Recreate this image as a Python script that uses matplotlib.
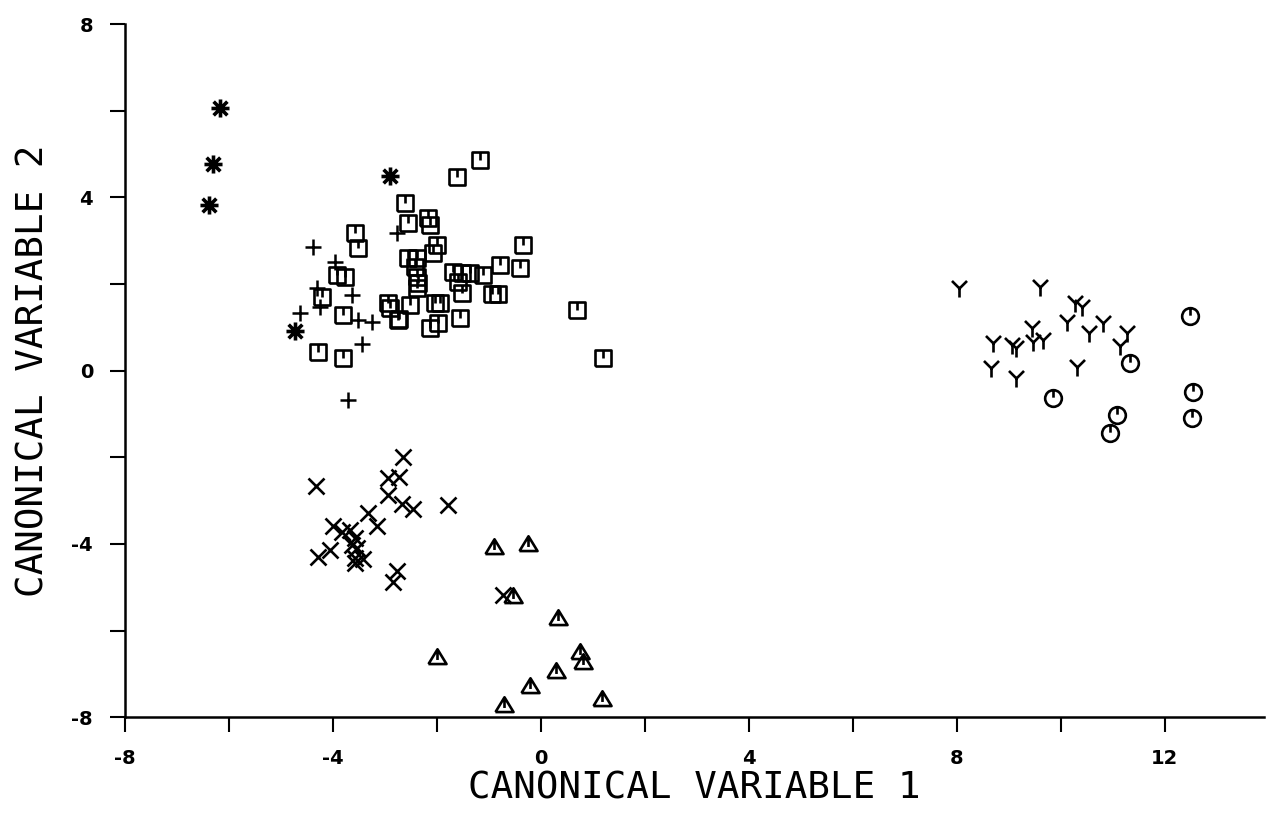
import matplotlib.pyplot as plt
from matplotlib.path import Path

# group values (canonical variable 1, canonical variable 2)
star_x = [-6.17, -6.31, -6.38, -2.90, -4.73]
star_y = [6.06, 4.77, 3.82, 4.49, 0.91]

plus_x = [-4.38, -3.96, -4.31, -4.25, -4.63, -3.63, -3.52, -3.25, -3.44, -3.71, -2.77]
plus_y = [2.85, 2.50, 1.90, 1.47, 1.33, 1.74, 1.17, 1.12, 0.61, -0.68, 3.18]

square_x = [-1.17, -1.62, -2.62, -2.56, -2.17, -2.13, -3.58, -3.52, -2.00, -2.08,
            -0.35, -2.56, -2.38, -2.42, -2.38, -2.36, -2.38, -3.92, -3.77, -4.21,
            -1.69, -1.52, -1.36, -1.12, -1.60, -0.79, -0.40, -1.52, -0.94, -0.83,
            -2.94, -2.90, -2.52, -2.75, -2.04, -1.94, -1.56, -2.13, -1.98, -3.81,
            -4.29, -3.81, 0.69, 1.19, -2.73]
square_y = [4.86, 4.47, 3.87, 3.41, 3.52, 3.36, 3.18, 2.83, 2.90, 2.71,
            2.90, 2.60, 2.60, 2.39, 2.17, 2.03, 1.91, 2.20, 2.16, 1.70,
            2.27, 2.25, 2.25, 2.20, 2.05, 2.43, 2.36, 1.79, 1.76, 1.76,
            1.55, 1.44, 1.51, 1.17, 1.56, 1.56, 1.21, 0.98, 1.10, 1.28,
            0.43, 0.29, 1.40, 0.29, 1.20]

cross_x = [-2.65, -2.94, -2.73, -4.33, -2.94, -2.67, -2.46, -1.79, -3.33, -3.15,
           -4.00, -3.83, -3.67, -3.58, -3.63, -3.54, -4.06, -4.29, -3.58, -3.42,
           -3.58, -2.77, -2.85, -0.73]
cross_y = [-2.00, -2.48, -2.46, -2.67, -2.88, -3.08, -3.20, -3.11, -3.29, -3.59,
           -3.59, -3.73, -3.68, -3.86, -4.03, -4.10, -4.15, -4.30, -4.33, -4.36,
           -4.45, -4.63, -4.88, -5.18]

tri_x = [-0.90, -0.25, -0.54, 0.33, 0.75, 0.81, -2.00, 0.29, -0.21, -0.71, 1.17]
tri_y = [-4.07, -4.00, -5.20, -5.72, -6.50, -6.73, -6.62, -6.94, -7.29, -7.71, -7.59]

y_x = [8.04, 9.60, 10.27, 10.40, 10.12, 10.80, 10.54, 11.27, 9.44, 8.69,
       9.06, 9.13, 9.46, 9.65, 11.13, 8.65, 10.31, 9.13]
y_y = [1.90, 1.93, 1.56, 1.47, 1.12, 1.09, 0.86, 0.86, 0.98, 0.63,
       0.59, 0.52, 0.66, 0.71, 0.57, 0.06, 0.08, -0.17]

circ_x = [12.48, 11.33, 9.85, 12.54, 11.08, 12.52, 10.94]
circ_y = [1.26, 0.17, -0.64, -0.49, -1.03, -1.10, -1.44]

# marker shapes: open symbol with a short vertical stroke hanging from the top
M, L = Path.MOVETO, Path.LINETO
square_mk = Path([(-0.5, -0.5), (0.5, -0.5), (0.5, 0.5), (-0.5, 0.5), (-0.5, -0.5),
                  (0, 0.5), (0, 0.0)], [M, L, L, L, L, M, L])
tri_mk = Path([(-0.55, -0.4), (0.55, -0.4), (0, 0.5), (-0.55, -0.4),
               (0, 0.5), (0, -0.15)], [M, L, L, L, M, L])
circ = Path.unit_circle()
circ_mk = Path(list(circ.vertices) + [(0, 1), (0, 0.1)],
               list(circ.codes) + [M, L])
# Y shaped marker
y_mk = Path([(0, 0), (-0.5, 0.5), (0, 0), (0.5, 0.5), (0, 0), (0, -0.6)],
            [M, L, M, L, M, L])
# eight armed asterisk
star_mk = Path([(0, -0.5), (0, 0.5), (-0.5, 0), (0.5, 0),
                (-0.38, -0.38), (0.38, 0.38), (-0.38, 0.38), (0.38, -0.38)],
               [M, L, M, L, M, L, M, L])

plt.rcParams['font.family'] = ['DejaVu Sans Mono']

fig = plt.figure(figsize=(12.66, 8.14), dpi=100)
ax = fig.add_axes([0.0987, 0.119, 0.8995, 0.8514])

ax.plot(star_x, star_y, ls='none', marker=star_mk, ms=13, mew=2.6, color='k')
ax.plot(plus_x, plus_y, ls='none', marker='+', ms=12, mew=1.8, color='k')
ax.plot(square_x, square_y, ls='none', marker=square_mk, ms=12, mew=1.9,
        mfc='none', mec='k')
ax.plot(cross_x, cross_y, ls='none', marker='x', ms=11, mew=1.9, color='k')
ax.plot(tri_x, tri_y, ls='none', marker=tri_mk, ms=13, mew=1.9, mfc='none', mec='k')
ax.plot(y_x, y_y, ls='none', marker=y_mk, ms=13, mew=1.9, color='k')
ax.plot(circ_x, circ_y, ls='none', marker=circ_mk, ms=12, mew=1.9, mfc='none', mec='k')

ax.set_xlim(-8, 13.9)
ax.set_ylim(-8, 8)
ax.spines['top'].set_visible(False)
ax.spines['right'].set_visible(False)
ax.spines['left'].set_linewidth(1.8)
ax.spines['bottom'].set_linewidth(1.8)

ax.set_xticks(range(-8, 14, 2))
ax.set_xticklabels([str(v) if v % 4 == 0 else '' for v in range(-8, 14, 2)])
ax.set_yticks(range(-8, 9, 2))
ax.set_yticklabels([str(v) if v % 4 == 0 else '' for v in range(-8, 9, 2)])
ax.tick_params(direction='out', length=11, width=1.5, labelsize=14)
ax.tick_params(axis='x', pad=12)
ax.tick_params(axis='y', pad=12)
for lbl in ax.get_xticklabels() + ax.get_yticklabels():
    lbl.set_fontweight('bold')
    lbl.set_family('DejaVu Sans')

ax.set_xlabel('CANONICAL VARIABLE 1', fontsize=27, labelpad=2)
ax.set_ylabel('CANONICAL VARIABLE 2', fontsize=27, labelpad=14)

fig.savefig('out.png', dpi=100)
